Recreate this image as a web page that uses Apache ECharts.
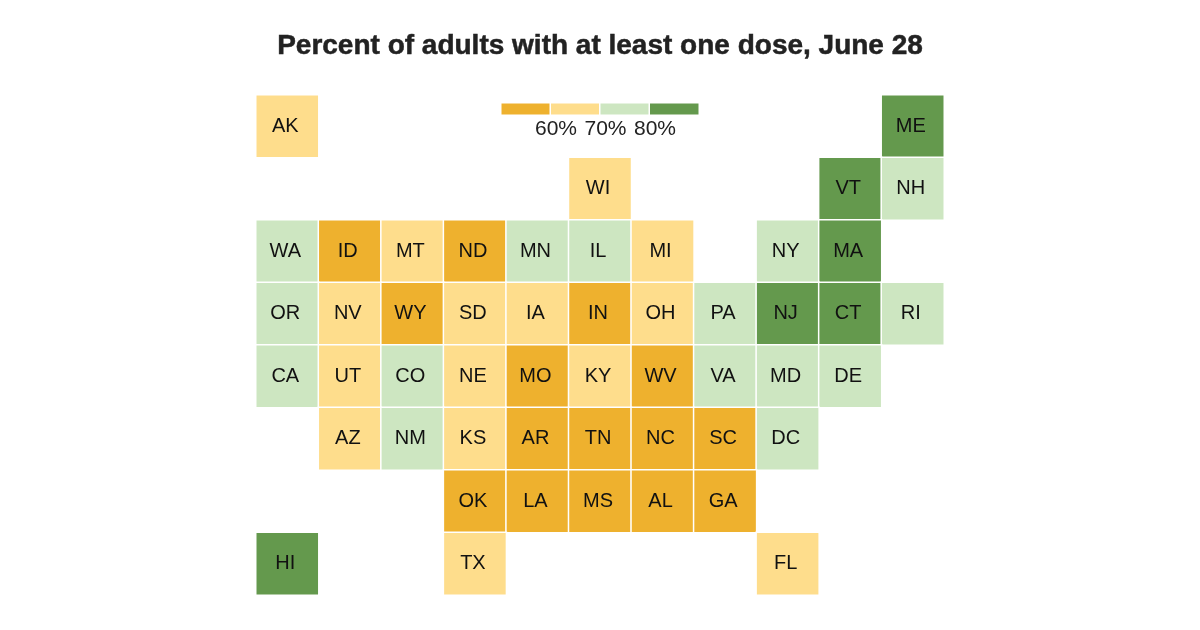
<!DOCTYPE html>
<html>
<head>
<meta charset="utf-8">
<style>html,body{margin:0;padding:0;background:#fff}#chart{width:1200px;height:630px}</style>
<script src="https://cdn.jsdelivr.net/npm/echarts@6/dist/echarts.min.js"></script>
</head>
<body>
<div id="chart"></div>
<script>
// Tile-map layout: each row of the grid, with "" for an empty tile
const tileRows = [
  ['AK','','','','','','','','','','ME'],
  ['','','','','','WI','','','','VT','NH'],
  ['WA','ID','MT','ND','MN','IL','MI','','NY','MA',''],
  ['OR','NV','WY','SD','IA','IN','OH','PA','NJ','CT','RI'],
  ['CA','UT','CO','NE','MO','KY','WV','VA','MD','DE',''],
  ['','AZ','NM','KS','AR','TN','NC','SC','DC','',''],
  ['','','','OK','LA','MS','AL','GA','','',''],
  ['HI','','','TX','','','','','FL','','']
];

// States grouped by vaccination band
const under60 = ['ID','ND','WY','IN','MO','WV','AR','TN','NC','SC','OK','LA','MS','AL','GA'];
const from60to70 = ['AK','WI','MT','MI','NV','SD','IA','OH','UT','NE','KY','AZ','KS','TX','FL'];
const from70to80 = ['NH','WA','MN','IL','NY','OR','PA','RI','CA','CO','VA','MD','DE','NM','DC'];
const over80 = ['ME','VT','MA','NJ','CT','HI'];

// Representative percent for each band
const bandValues = [55, 65, 75, 85];
const bandColors = ['#EEB12E', '#FEDD8C', '#CDE6C1', '#64994D'];
const legendTicks = [60, 70, 80];

const bandStates = [under60, from60to70, from70to80, over80];
const valueOf = st => bandValues[bandStates.findIndex(g => g.includes(st))];

const tileData = [];
tileRows.forEach((row, r) => row.forEach((st, c) => {
  if (st) tileData.push({ name: st, value: [c, r, valueOf(st)] });
}));
const legendData = bandValues.map((v, i) => [i, 0, v]);

const colCats = tileRows[0].map((_, i) => i);
const rowCats = tileRows.map((_, i) => i);
const FONT = '"Liberation Sans", Arial, sans-serif';

const chart = echarts.init(document.getElementById('chart'), null, { renderer: 'canvas' });
chart.setOption({
  animation: false,
  backgroundColor: '#fff',
  title: {
    text: 'Percent of adults with at least one dose, June 28',
    left: 595, top: 27, textAlign: 'center',
    textStyle: {
      fontFamily: FONT, fontWeight: 'bold', fontSize: 28, color: '#222',
      textBorderColor: '#222', textBorderWidth: 0.5
    }
  },
  visualMap: {
    show: false, type: 'piecewise', seriesIndex: [0, 1], dimension: 2,
    pieces: [
      { lt: 60, color: bandColors[0] },
      { gte: 60, lt: 70, color: bandColors[1] },
      { gte: 70, lt: 80, color: bandColors[2] },
      { gte: 80, color: bandColors[3] }
    ]
  },
  grid: [
    { left: 256, top: 95, width: 688, height: 500 },
    { left: 501, top: 103, width: 198, height: 12 }
  ],
  xAxis: [
    { gridIndex: 0, type: 'category', data: colCats, show: false },
    { gridIndex: 1, type: 'category', data: bandValues, show: false },
    {
      gridIndex: 1, type: 'value', min: 50, max: 90, interval: 10, position: 'bottom',
      axisLine: { show: false }, axisTick: { show: false }, splitLine: { show: false },
      axisLabel: {
        show: true, margin: 4, fontFamily: FONT, fontSize: 21, color: '#222',
        padding: [0, 0, 0, 11],
        showMinLabel: false, showMaxLabel: false,
        formatter: v => legendTicks.includes(v) ? v + '%' : ''
      }
    }
  ],
  yAxis: [
    { gridIndex: 0, type: 'category', data: rowCats, inverse: true, show: false },
    { gridIndex: 1, type: 'category', data: [0], show: false }
  ],
  series: [
    {
      type: 'heatmap', xAxisIndex: 0, yAxisIndex: 0, data: tileData,
      itemStyle: { borderColor: '#fff', borderWidth: 1.5 },
      emphasis: { disabled: true },
      label: {
        show: true, formatter: p => p.name, offset: [-2, 0],
        fontFamily: FONT, fontSize: 20, color: '#111'
      }
    },
    {
      type: 'heatmap', xAxisIndex: 1, yAxisIndex: 1, data: legendData,
      itemStyle: { borderColor: '#fff', borderWidth: 1.5 },
      emphasis: { disabled: true }, label: { show: false }
    }
  ]
});
</script>
</body>
</html>
